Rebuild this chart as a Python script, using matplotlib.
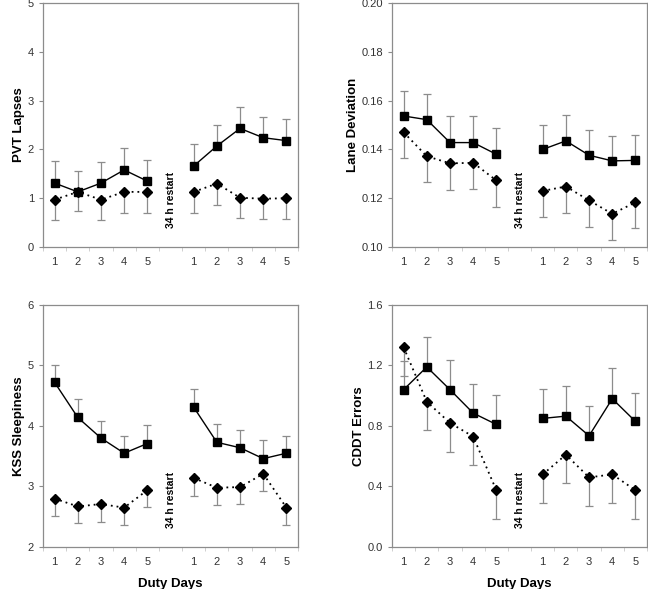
import matplotlib
matplotlib.use("Agg")
import matplotlib.pyplot as plt
import matplotlib.transforms as mtransforms
import numpy as np

plt.rcParams["font.family"] = ["Liberation Sans Narrow", "Liberation Sans", "DejaVu Sans"]

# ── data ──────────────────────────────────────────────────────────────────────
day_labels = ["1", "2", "3", "4", "5", "1", "2", "3", "4", "5"]

# PVT lapses
pvt_sq      = [1.31, 1.13, 1.31, 1.58, 1.35, 1.66, 2.07, 2.43, 2.24, 2.18]
pvt_sq_hi   = [1.76, 1.55, 1.74, 2.02, 1.78, 2.11, 2.50, 2.87, 2.66, 2.62]
pvt_dm      = [0.97, 1.13, 0.97, 1.13, 1.13, 1.13, 1.30, 1.01, 0.99, 1.00]
pvt_dm_lo   = [0.55, 0.74, 0.55, 0.70, 0.70, 0.70, 0.86, 0.59, 0.57, 0.58]

# Lane deviation
lane_sq     = [0.1537, 0.1522, 0.1428, 0.1428, 0.1380, 0.1400, 0.1435, 0.1376, 0.1353, 0.1355]
lane_sq_hi  = [0.1640, 0.1627, 0.1536, 0.1536, 0.1488, 0.1501, 0.1540, 0.1478, 0.1456, 0.1460]
lane_dm     = [0.1470, 0.1372, 0.1343, 0.1345, 0.1273, 0.1230, 0.1248, 0.1191, 0.1136, 0.1183]
lane_dm_lo  = [0.1363, 0.1265, 0.1235, 0.1236, 0.1165, 0.1121, 0.1140, 0.1082, 0.1030, 0.1076]

# KSS sleepiness
kss_sq      = [4.72, 4.14, 3.80, 3.55, 3.71, 4.31, 3.73, 3.64, 3.46, 3.55]
kss_sq_hi   = [5.00, 4.44, 4.09, 3.84, 4.02, 4.61, 4.03, 3.93, 3.77, 3.84]
kss_dm      = [2.80, 2.67, 2.71, 2.65, 2.94, 3.14, 2.98, 2.99, 3.21, 2.65]
kss_dm_lo   = [2.52, 2.39, 2.42, 2.37, 2.66, 2.85, 2.69, 2.71, 2.93, 2.37]

# CDDT errors
cddt_sq     = [1.04, 1.19, 1.04, 0.885, 0.81, 0.85, 0.865, 0.735, 0.98, 0.83]
cddt_sq_hi  = [1.23, 1.385, 1.235, 1.08, 1.005, 1.043, 1.063, 0.93, 1.18, 1.02]
cddt_dm     = [1.32, 0.96, 0.82, 0.73, 0.375, 0.48, 0.61, 0.46, 0.48, 0.375]
cddt_dm_lo  = [1.13, 0.775, 0.63, 0.54, 0.185, 0.29, 0.42, 0.27, 0.29, 0.185]

panels = [
    ("PVT Lapses", pvt_sq, pvt_sq_hi, pvt_dm, pvt_dm_lo, (0, 5), np.arange(0, 6, 1), "{:.0f}"),
    ("Lane Deviation", lane_sq, lane_sq_hi, lane_dm, lane_dm_lo, (0.10, 0.20), np.arange(0.10, 0.201, 0.02), "{:.2f}"),
    ("KSS Sleepiness", kss_sq, kss_sq_hi, kss_dm, kss_dm_lo, (2, 6), np.arange(2, 7, 1), "{:.0f}"),
    ("CDDT Errors", cddt_sq, cddt_sq_hi, cddt_dm, cddt_dm_lo, (0, 1.6), np.arange(0, 1.61, 0.4), "{:.1f}"),
]

# slot centres: 5 duty days, one empty slot for the restart, 5 more days
xpos = np.r_[np.arange(5) + 0.5, np.arange(5) + 6.5]

# ── plot ──────────────────────────────────────────────────────────────────────
fig = plt.figure(figsize=(6.48, 5.89), dpi=100)
rects = [
    [0.0664, 0.5806, 0.3935, 0.4143],
    [0.6050, 0.5806, 0.3935, 0.4143],
    [0.0664, 0.0713, 0.3935, 0.4110],
    [0.6050, 0.0713, 0.3935, 0.4110],
]
grey = "#8c8c8c"

for i, (ylab, sq, sq_hi, dm, dm_lo, ylim, yticks, fmt) in enumerate(panels):
    ax = fig.add_axes(rects[i])
    sq, sq_hi, dm, dm_lo = map(np.array, (sq, sq_hi, dm, dm_lo))

    for seg in (slice(0, 5), slice(5, 10)):
        ax.errorbar(xpos[seg], sq[seg], yerr=[np.zeros(5), sq_hi[seg] - sq[seg]],
                    fmt="none", ecolor=grey, elinewidth=0.9, capsize=3, capthick=0.9, zorder=1)
        ax.errorbar(xpos[seg], dm[seg], yerr=[dm[seg] - dm_lo[seg], np.zeros(5)],
                    fmt="none", ecolor=grey, elinewidth=0.9, capsize=3, capthick=0.9, zorder=1)
        ax.plot(xpos[seg], sq[seg], color="black", lw=1.0, marker="s", ms=5.5, zorder=3)
        ax.plot(xpos[seg], dm[seg], color="black", lw=1.3, ls=(0, (1, 2.2)), marker="D",
                ms=5, zorder=3)

    trans = mtransforms.blended_transform_factory(ax.transData, ax.transAxes)
    ax.text(5.5, 0.08, "34 h restart", transform=trans, rotation=90, ha="center",
            va="bottom", fontsize=7.5, fontweight="bold")

    ax.set_xlim(0, 11)
    ax.set_ylim(*ylim)
    ax.set_xticks(xpos)
    ax.set_xticklabels(day_labels)
    ax.set_xticks(np.arange(0, 12), minor=True)
    ax.tick_params(axis="x", which="major", length=0, pad=7, labelsize=8, labelcolor="#333333")
    ax.tick_params(axis="x", which="minor", length=3, color="#c8c8c8")
    ax.set_yticks(yticks)
    ax.set_yticklabels([fmt.format(v) for v in yticks])
    ax.tick_params(axis="y", length=3, color=grey, labelsize=8, labelcolor="#333333")
    for sp in ax.spines.values():
        sp.set_color(grey)
        sp.set_linewidth(0.9)

    ax.set_ylabel(ylab, fontsize=9.5, fontweight="bold", labelpad=2)
    if i >= 2:
        ax.set_xlabel("Duty Days", fontsize=9.5, fontweight="bold", labelpad=8)

fig.savefig("out.png", dpi=100)
